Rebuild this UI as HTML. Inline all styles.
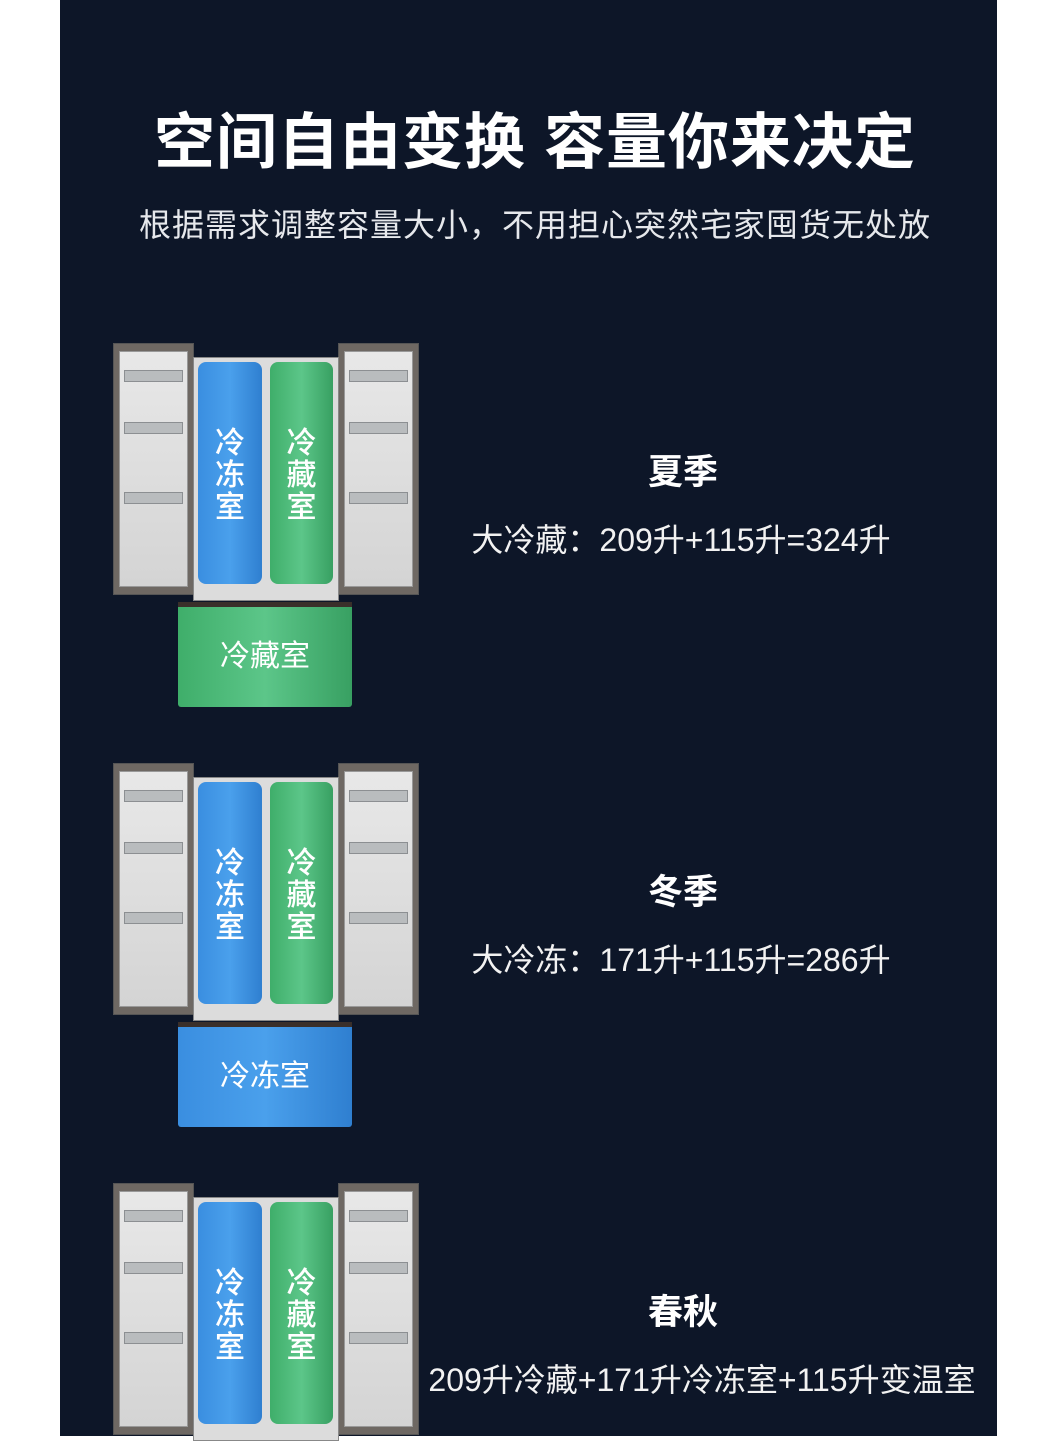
<!DOCTYPE html>
<html><head><meta charset="utf-8"><style>
body{margin:0;width:1047px;height:1436px;background:#fff;position:relative;overflow:hidden;font-family:"Liberation Sans","Noto Sans CJK SC",sans-serif}
.bg{position:absolute;left:60px;top:0;width:937px;height:1436px;background:#0d1628}
.a{position:absolute}
.t{position:absolute;color:#fff;white-space:nowrap;text-align:center}
.door{position:absolute;background:#6e6863;border:1px solid #555}
.door .in{position:absolute;left:5px;right:5px;top:7px;bottom:7px;background:linear-gradient(#e8e8e8,#d4d4d4);border:1px solid #999}
.shelf{position:absolute;left:4px;right:4px;height:10px;background:#b9bcbe;border:1px solid #8c8f92}
.cab{position:absolute;background:#dcdcdc;border:1px solid #888}
.comp{position:absolute;border-radius:8px;color:#fff;font-size:30px;line-height:32px;text-align:center;font-weight:500}
.blue{background:linear-gradient(90deg,#3a8ee0,#4aa0ec 50%,#2f7fd0)}
.green{background:linear-gradient(90deg,#3fae6a,#5cc689 50%,#38a062)}
.drawer{position:absolute;color:#fff;font-size:30px;text-align:center;border-top:5px solid #3a2f2a}
</style></head><body>
<div class="bg"></div>
<div class="t" style="left:60px;width:950px;top:104px;font-size:61px;font-weight:bold;letter-spacing:1px;line-height:76px">空间自由变换 容量你来决定</div>
<div class="t" style="left:60px;width:950px;top:205px;font-size:32px;color:#e6e8ec;line-height:40px;letter-spacing:1px">根据需求调整容量大小，不用担心突然宅家囤货无处放</div>

<div class="a" style="left:0;top:0">
<div class="door" style="left:113px;top:343px;width:79px;height:250px"><div class="in"><div class="shelf" style="top:18px"></div><div class="shelf" style="top:70px"></div><div class="shelf" style="top:140px"></div></div></div>
<div class="door" style="left:338px;top:343px;width:79px;height:250px"><div class="in"><div class="shelf" style="top:18px"></div><div class="shelf" style="top:70px"></div><div class="shelf" style="top:140px"></div></div></div>
<div class="cab" style="left:193px;top:357px;width:144px;height:242px"></div>
<div class="comp blue" style="left:198px;top:362px;width:64px;height:222px"><div style="padding-top:66px">冷<br>冻<br>室</div></div>
<div class="comp green" style="left:270px;top:362px;width:63px;height:222px"><div style="padding-top:66px">冷<br>藏<br>室</div></div>
<div class="drawer green" style="left:178px;top:602px;width:174px;height:100px;line-height:100px;border-radius:0 0 3px 3px">冷藏室</div>
</div>
<div class="t" style="left:583px;width:200px;top:451px;font-size:35px;font-weight:bold;line-height:44px">夏季</div>
<div class="t" style="left:431px;width:500px;top:520px;font-size:32px;line-height:40px;color:#f2f2f2">大冷藏：209升+115升=324升</div>

<div class="a" style="left:0;top:420px;width:1047px;height:400px">
<div class="door" style="left:113px;top:343px;width:79px;height:250px"><div class="in"><div class="shelf" style="top:18px"></div><div class="shelf" style="top:70px"></div><div class="shelf" style="top:140px"></div></div></div>
<div class="door" style="left:338px;top:343px;width:79px;height:250px"><div class="in"><div class="shelf" style="top:18px"></div><div class="shelf" style="top:70px"></div><div class="shelf" style="top:140px"></div></div></div>
<div class="cab" style="left:193px;top:357px;width:144px;height:242px"></div>
<div class="comp blue" style="left:198px;top:362px;width:64px;height:222px"><div style="padding-top:66px">冷<br>冻<br>室</div></div>
<div class="comp green" style="left:270px;top:362px;width:63px;height:222px"><div style="padding-top:66px">冷<br>藏<br>室</div></div>
<div class="drawer blue" style="left:178px;top:602px;width:174px;height:100px;line-height:100px;border-radius:0 0 3px 3px">冷冻室</div>
</div>
<div class="t" style="left:583px;width:200px;top:871px;font-size:35px;font-weight:bold;line-height:44px">冬季</div>
<div class="t" style="left:431px;width:500px;top:940px;font-size:32px;line-height:40px;color:#f2f2f2">大冷冻：171升+115升=286升</div>

<div class="a" style="left:0;top:840px;width:1047px;height:600px">
<div class="door" style="left:113px;top:343px;width:79px;height:250px"><div class="in"><div class="shelf" style="top:18px"></div><div class="shelf" style="top:70px"></div><div class="shelf" style="top:140px"></div></div></div>
<div class="door" style="left:338px;top:343px;width:79px;height:250px"><div class="in"><div class="shelf" style="top:18px"></div><div class="shelf" style="top:70px"></div><div class="shelf" style="top:140px"></div></div></div>
<div class="cab" style="left:193px;top:357px;width:144px;height:242px"></div>
<div class="comp blue" style="left:198px;top:362px;width:64px;height:222px"><div style="padding-top:66px">冷<br>冻<br>室</div></div>
<div class="comp green" style="left:270px;top:362px;width:63px;height:222px"><div style="padding-top:66px">冷<br>藏<br>室</div></div>
</div>
<div class="t" style="left:583px;width:200px;top:1291px;font-size:35px;font-weight:bold;line-height:44px">春秋</div>
<div class="t" style="left:402px;width:600px;top:1360px;font-size:32px;line-height:40px;color:#f2f2f2">209升冷藏+171升冷冻室+115升变温室</div>
</body></html>
